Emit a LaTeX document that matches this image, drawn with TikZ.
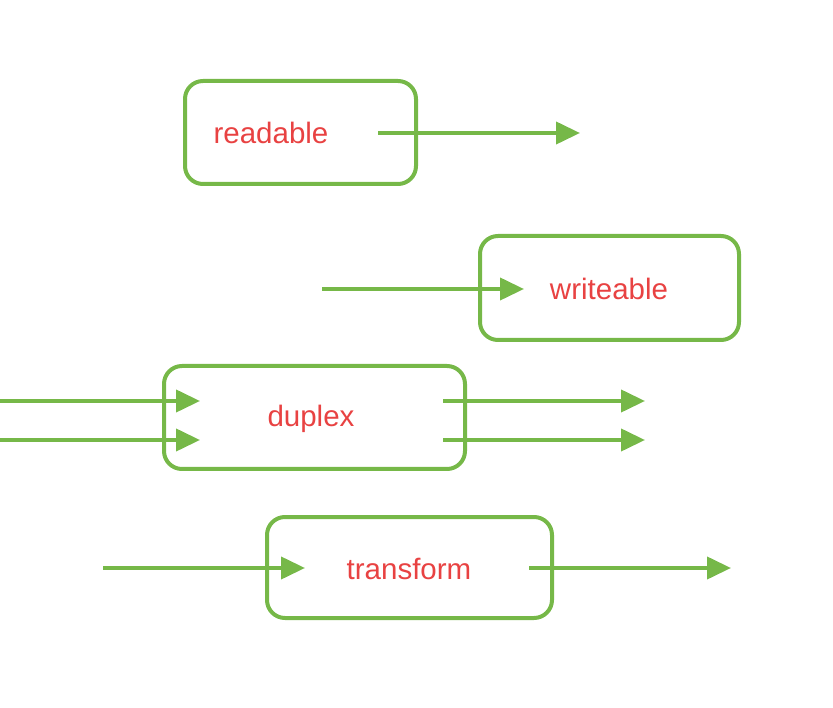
\documentclass[tikz,border=0pt]{standalone}
\usepackage{fontspec}
\setmainfont{Liberation Sans}
\usetikzlibrary{arrows.meta}
\definecolor{sgreen}{RGB}{118,184,72}
\definecolor{sred}{RGB}{232,66,66}
\begin{document}
\begin{tikzpicture}[x=1pt,y=-1pt,
  box/.style={draw=sgreen,line width=4pt,rounded corners=18pt,inner sep=0pt},
  lbl/.style={text=sred,font=\fontsize{29.5}{34}\selectfont,inner sep=0pt},
  flow/.style={draw=sgreen,line width=4pt,-{Triangle[length=24pt,width=22pt]}}]
\useasboundingbox (0,0) rectangle (833,708);
% boxes
\node[box,minimum width=231pt,minimum height=103pt] (readable) at (300.5,132.5) {};
\node[box,minimum width=259pt,minimum height=104pt] (writeable) at (609.5,288) {};
\node[box,minimum width=301pt,minimum height=103pt] (duplex) at (314.5,417.5) {};
\node[box,minimum width=285pt,minimum height=101pt] (transform) at (409.5,567.5) {};
% labels
\node[lbl] (tr) at (271,133) {readable};
\node[lbl] (tw) at (609,289) {writeable};
\node[lbl] (td) at (311,419) {duplex};
\node[lbl] (tt) at (409,569) {transform};
% arrow endpoints
\coordinate (r1) at (378,133); \coordinate (r2) at (580,133);
\coordinate (w1) at (322,289); \coordinate (w2) at (524,289);
\coordinate (d1) at (0,401);   \coordinate (d2) at (200,401);
\coordinate (d3) at (0,440);   \coordinate (d4) at (200,440);
\coordinate (d5) at (443,401); \coordinate (d6) at (645,401);
\coordinate (d7) at (443,440); \coordinate (d8) at (645,440);
\coordinate (t1) at (103,568); \coordinate (t2) at (305,568);
\coordinate (t3) at (529,568); \coordinate (t4) at (731,568);
% arrows
\draw[flow] (r1) -- (r2);
\draw[flow] (w1) -- (w2);
\draw[flow] (d1) -- (d2);
\draw[flow] (d3) -- (d4);
\draw[flow] (d5) -- (d6);
\draw[flow] (d7) -- (d8);
\draw[flow] (t1) -- (t2);
\draw[flow] (t3) -- (t4);
\end{tikzpicture}
\end{document}
